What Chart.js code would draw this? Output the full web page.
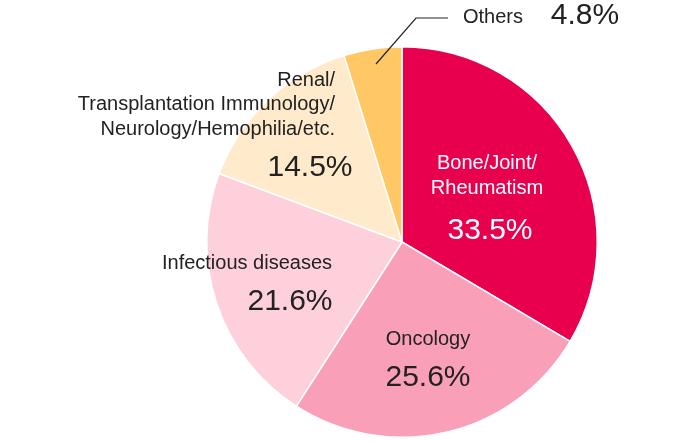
<!DOCTYPE html>
<html><head><meta charset="utf-8">
<script src="https://cdn.jsdelivr.net/npm/chart.js@4"></script>
<style>html,body{margin:0;padding:0;background:#fff}#w{width:690px;height:441px}</style>
</head><body><div id="w"><canvas id="c"></canvas></div>
<script>
const categories = ["Bone/Joint/Rheumatism","Oncology","Infectious diseases","Renal/Transplantation Immunology/Neurology/Hemophilia/etc.","Others"];
const shares = [33.5, 25.6, 21.6, 14.5, 4.8];
const colors = ["#E8004F","#F9A0B8","#FDD0DC","#FFEBCB","#FFC864"];
const F = '"Liberation Sans", Arial, sans-serif';
const labels = {
  id:'labels',
  afterDraw(ch){
    const x=ch.ctx; x.save(); x.textBaseline='middle';
    function t(s,px,py,size,col,al){x.font=size+'px '+F;x.fillStyle=col;x.textAlign=al||'center';x.fillText(s,px,py);}
    const dk='#222';
    t('Bone/Joint/',487,163,20,'#fff');
    t('Rheumatism',487,188,20,'#fff');
    t(shares[0].toFixed(1)+'%',490,231,30,'#fff');
    t('Oncology',428,339,20,dk);
    t(shares[1].toFixed(1)+'%',428,378,30,dk);
    t('Infectious diseases',247,263,20,dk);
    t(shares[2].toFixed(1)+'%',290,302,30,dk);
    t('Renal/',335,80,20,dk,'right');
    t('Transplantation Immunology/',335,104,20,dk,'right');
    t('Neurology/Hemophilia/etc.',335,129,20,dk,'right');
    t(shares[3].toFixed(1)+'%',310,168,30,dk);
    t('Others',493,17,20,dk);
    t(shares[4].toFixed(1)+'%',585,16,30,dk);
    x.strokeStyle='#222';x.lineWidth=1.2;x.beginPath();x.moveTo(376,64);x.lineTo(416,18);x.lineTo(448,18);x.stroke();
    x.restore();
  }
};
new Chart(document.getElementById('c'),{
  type:'pie',
  data:{labels:categories,datasets:[{data:shares,backgroundColor:colors,borderColor:'#fff',borderWidth:1.5}]},
  options:{responsive:true,maintainAspectRatio:false,animation:false,
    layout:{padding:{left:206,right:92,top:46,bottom:3}},
    plugins:{legend:{display:false},tooltip:{enabled:false}}},
  plugins:[labels]
});
</script></body></html>
